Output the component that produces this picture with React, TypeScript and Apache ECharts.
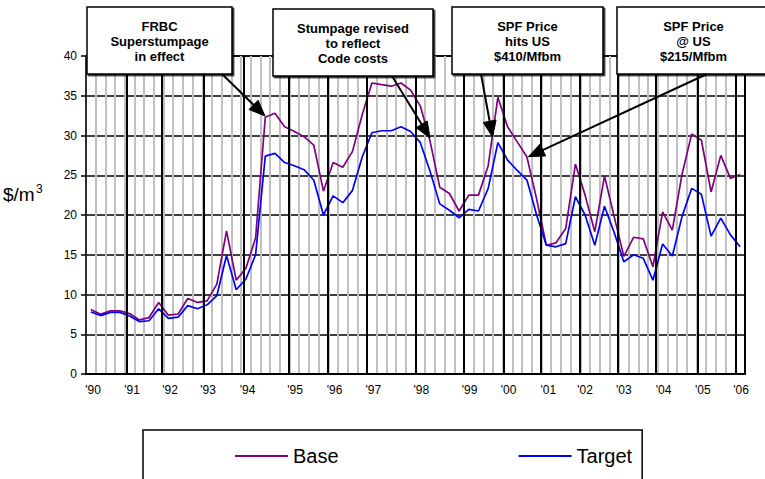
import React, { useEffect, useRef } from "react";
import * as echarts from "echarts";

// Quarterly series values ($/m3)
const baseValues = [
  8.1, 7.5, 7.95, 7.95, 7.6, 6.8, 7.1, 9.0, 7.4, 7.55,
  9.5, 9.0, 9.2, 11.3, 18.0, 11.8, 13.3, 17.1, 32.3, 32.8,
  31.1, 30.5, 29.85, 28.8, 23.0, 26.6, 26.0, 28.0, 32.6, 36.6,
  36.4, 36.2, 36.6, 35.7, 33.7, 29.3, 23.5, 22.7, 20.5, 22.5,
  22.5, 26.2, 34.8, 31.1, 29.2, 27.3, 22.0, 16.2, 16.5, 18.3,
  26.4, 22.5, 17.9, 24.9, 19.8, 14.8, 17.2, 17.0, 13.5, 20.4,
  18.1, 25.1, 30.2, 29.4, 22.9, 27.5, 24.6, 25.1,
];
const targetValues = [
  7.8, 7.35, 7.75, 7.75, 7.3, 6.6, 6.7, 8.2, 7.0, 7.15,
  8.6, 8.2, 8.7, 9.85, 14.9, 10.6, 11.95, 15.0, 27.4, 27.75,
  26.6, 26.2, 25.7, 24.4, 20.0, 22.4, 21.55, 23.1, 27.3, 30.35,
  30.6, 30.6, 31.1, 30.5, 29.1, 25.5, 21.4, 20.6, 19.65, 20.7,
  20.5, 23.35, 29.1, 26.9, 25.6, 24.4, 20.0, 16.2, 16.0, 16.4,
  22.3, 20.0, 16.2, 21.1, 17.8, 14.1, 15.0, 14.55, 11.8, 16.35,
  14.85, 19.8, 23.35, 22.6, 17.35, 19.6, 17.5, 16.0,
];

// Year tick labels and their positions on the period axis
const yearLabels = ["'90", "'91", "'92", "'93", "'94", "'95", "'96", "'97", "'98", "'99", "'00", "'01", "'02", "'03", "'04", "'05", "'06"];
const yearLabelPos = [0.72, 4.75, 8.67, 12.6, 16.67, 21.57, 25.65, 29.65, 34.6, 39.58, 43.6, 47.7, 51.5, 55.5, 59.6, 63.65, 67.6];
// Year divider lines (period axis units)
const yearLinePos = [4.2, 7.84, 12.15, 16.27, 20.95, 24.9, 28.97, 34.02, 39.0, 43.07, 46.92, 50.98, 54.83, 58.82, 63.13, 67.08];

const yTicks = { min: 0, max: 40, interval: 5 };

// Annotation texts and the points (period, value) their arrows point to
const annotationTexts = [
  "FRBC\nSuperstumpage\nin effect",
  "Stumpage revised\nto reflect\nCode costs",
  "SPF Price\nhits US\n$410/Mfbm",
  "SPF Price\n@ US\n$215/Mfbm",
];
const arrowTargets: [number, number][] = [
  [18.47, 32.45],
  [35.5, 29.69],
  [41.95, 29.81],
  [45.64, 27.33],
];

export default function App() {
  const ref = useRef<HTMLDivElement>(null);
  useEffect(() => {
    if (!ref.current) return;
    const chart = echarts.init(ref.current, null, { renderer: "svg" });
    const font = "Arial, 'Liberation Sans', sans-serif";
    const toPairs = (arr: number[]) => arr.map((v, i) => [i + 0.5, v]);

    const boxes = [
      { x: 87, y: 7, w: 145, h: 67, cy: 41.5 },
      { x: 273, y: 9, w: 160, h: 67, cy: 43 },
      { x: 452, y: 7, w: 151, h: 67, cy: 41 },
      { x: 617, y: 7, w: 153, h: 67, cy: 41 },
    ];
    const arrowStarts = [
      { x: 222, y: 74 },
      { x: 392, y: 76 },
      { x: 481, y: 74 },
      { x: 707, y: 74 },
    ];

    const graphic: any[] = [];
    boxes.forEach((b, k) => {
      graphic.push({
        type: "rect",
        z: 100,
        shape: { x: b.x, y: b.y, width: b.w, height: b.h },
        style: {
          fill: "#fff",
          stroke: "#000",
          lineWidth: 1.5,
          shadowColor: "rgba(0,0,0,0.85)",
          shadowOffsetX: 1.5,
          shadowOffsetY: 1.5,
          shadowBlur: 0,
        },
      });
      graphic.push({
        type: "text",
        z: 101,
        x: b.x + b.w / 2,
        y: b.cy,
        style: {
          text: annotationTexts[k],
          textAlign: "center",
          textVerticalAlign: "middle",
          font: `bold 13px ${font}`,
          lineHeight: 15,
          fill: "#000",
        },
      });
    });
    graphic.push({
      type: "text",
      x: 3,
      y: 194,
      style: { text: "$/m", font: `19px ${font}`, fill: "#000", textVerticalAlign: "middle" },
    });
    graphic.push({
      type: "text",
      x: 36,
      y: 183,
      style: { text: "3", font: `12px ${font}`, fill: "#000", textVerticalAlign: "top" },
    });

    const option: any = {
      animation: false,
      backgroundColor: "#fff",
      grid: {
        left: 86,
        right: 20,
        top: 56,
        bottom: 105,
        show: true,
        borderColor: "#000",
        borderWidth: 1.5,
        backgroundColor: "#fff",
      },
      xAxis: {
        type: "value",
        min: 0,
        max: 68,
        interval: 1,
        axisLine: { show: true, onZero: false, lineStyle: { color: "#000", width: 2 } },
        axisTick: { show: false },
        splitLine: { show: true, lineStyle: { color: "#c0c0c0", width: 2 } },
        axisLabel: {
          customValues: yearLabelPos,
          formatter: (v: number) => {
            let best = 0;
            for (let k = 1; k < yearLabelPos.length; k++) {
              if (Math.abs(yearLabelPos[k] - v) < Math.abs(yearLabelPos[best] - v)) best = k;
            }
            return yearLabels[best];
          },
          color: "#000",
          fontSize: 12,
          fontFamily: font,
          margin: 10,
          showMinLabel: true,
          showMaxLabel: true,
        },
      },
      yAxis: {
        type: "value",
        ...yTicks,
        axisLine: { show: true, lineStyle: { color: "#000", width: 1.5 } },
        axisTick: { show: true, length: 5, lineStyle: { color: "#000", width: 1.5 } },
        splitLine: { show: true, lineStyle: { color: "#000", width: 1.5 } },
        axisLabel: { color: "#000", fontSize: 12, fontFamily: font, margin: 9 },
      },
      legend: {
        data: [
          { name: "Base", icon: "rect" },
          { name: "Target", icon: "rect" },
        ],
        left: 143,
        top: 430,
        orient: "horizontal",
        padding: [16, 10, 22, 92],
        itemWidth: 53,
        itemHeight: 2,
        itemGap: 180,
        borderColor: "#000",
        borderWidth: 1.5,
        textStyle: { color: "#000", fontSize: 20, fontFamily: font },
      },
      series: [
        {
          type: "line",
          name: "_years",
          data: [[0, 0]],
          symbol: "none",
          lineStyle: { opacity: 0 },
          silent: true,
          z: 1,
          markLine: {
            silent: true,
            symbol: "none",
            label: { show: false },
            lineStyle: { color: "#000", width: 2, type: "solid" },
            emphasis: { disabled: true },
            data: [...yearLinePos.map((u) => ({ xAxis: u })), { xAxis: 68 }],
          },
        },
        {
          type: "line",
          name: "Base",
          data: toPairs(baseValues),
          symbol: "none",
          lineStyle: { color: "#800080", width: 1.7 },
          itemStyle: { color: "#800080" },
          z: 3,
        },
        {
          type: "line",
          name: "Target",
          data: toPairs(targetValues),
          symbol: "none",
          lineStyle: { color: "#0000ff", width: 1.7 },
          itemStyle: { color: "#0000ff" },
          z: 4,
        },
      ],
      graphic,
    };
    chart.setOption(option);

    // Arrows: from each annotation box to its data point (converted through the axes)
    const arrowGraphics: any[] = [];
    arrowTargets.forEach((t, k) => {
      const p = chart.convertToPixel({ gridIndex: 0 }, t) as number[];
      if (!p) return;
      const s = arrowStarts[k];
      const dx = p[0] - s.x;
      const dy = p[1] - s.y;
      const len = Math.sqrt(dx * dx + dy * dy);
      const ux = dx / len;
      const uy = dy / len;
      const L = 16;
      const W = 6.5;
      const bx = p[0] - ux * L;
      const by = p[1] - uy * L;
      arrowGraphics.push({
        type: "line",
        z: 102,
        shape: { x1: s.x, y1: s.y, x2: bx + ux * 2, y2: by + uy * 2 },
        style: { stroke: "#000", lineWidth: 2 },
      });
      arrowGraphics.push({
        type: "polygon",
        z: 102,
        shape: {
          points: [
            [p[0], p[1]],
            [bx - uy * W, by + ux * W],
            [bx + uy * W, by - ux * W],
          ],
        },
        style: { fill: "#000", stroke: "#000", lineWidth: 1 },
      });
    });
    chart.setOption({ graphic: [...graphic, ...arrowGraphics] });

    return () => chart.dispose();
  }, []);
  return (
    <div
      ref={ref}
      style={{ position: "absolute", left: 0, top: 0, width: 765, height: 479, background: "#fff" }}
    />
  );
}
